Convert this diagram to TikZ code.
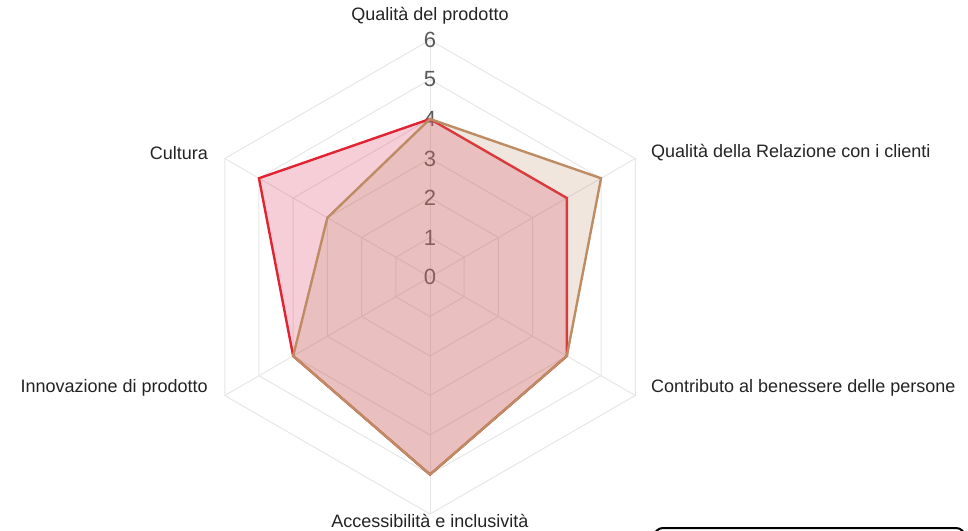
\documentclass[tikz,border=0pt]{standalone}
\usepackage{fontspec}
\setmainfont{Liberation Sans}
\usetikzlibrary{positioning}

\definecolor{redline}{RGB}{224,36,52}
\definecolor{redfill}{RGB}{220,60,100}
\definecolor{brownline}{RGB}{190,140,100}
\definecolor{gridgray}{RGB}{230,230,230}
\definecolor{ticktext}{RGB}{90,90,90}
\definecolor{labeltext}{RGB}{35,35,35}

\newcommand{\unitr}{39.5}

\tikzset{
    grid/.style={draw=gridgray, line width=1pt},
    ticklabel/.style={text=ticktext, font=\fontsize{22}{26}\selectfont, inner sep=0pt},
    axislabel/.style={text=labeltext, font=\fontsize{18}{22}\selectfont, inner sep=0pt},
    seriesA/.style={draw=redline, fill=redfill, fill opacity=0.25, draw opacity=1, line width=2.4pt, line join=miter},
    seriesB/.style={draw=brownline, fill=brownline, fill opacity=0.22, draw opacity=1, line width=2.4pt, line join=miter},
}

\begin{document}
\begin{tikzpicture}[x=1pt,y=1pt]
    \clip (-430,-253) rectangle (538,277);
    %\draw[step=10,help lines] (-430,-253) grid (538,277);

    % rings and spokes
    \foreach \r in {1,...,6}
        \draw[grid] (90:\r*\unitr) -- (30:\r*\unitr) -- (-30:\r*\unitr) -- (-90:\r*\unitr) -- (-150:\r*\unitr) -- (150:\r*\unitr) -- cycle;
    \foreach \a in {90,30,-30,-90,-150,150}
        \draw[grid] (0,0) -- (\a:6*\unitr);

    % scale
    \foreach \v in {0,...,6}
        \node[ticklabel] (tick\v) at (0,\v*\unitr) {\v};

    % datasets
    \draw[seriesA] (90:4*\unitr) -- (30:4*\unitr) -- (-30:4*\unitr) -- (-90:5*\unitr) -- (-150:4*\unitr) -- (150:5*\unitr) -- cycle;
    \draw[seriesB] (90:4*\unitr) -- (30:5*\unitr) -- (-30:4*\unitr) -- (-90:5*\unitr) -- (-150:4*\unitr) -- (150:3*\unitr) -- cycle;

    % axis labels
    \node[axislabel] (prodotto) at (0,261) {Qualità del prodotto};
    \node[axislabel, anchor=west] (relazione) at (221,124) {Qualità della Relazione con i clienti};
    \node[axislabel, anchor=west] (benessere) at (221,-111) {Contributo al benessere delle persone};
    \node[axislabel] (accessibilita) at (0,-244) {Accessibilità e inclusività};
    \node[axislabel, anchor=east] (innovazione) at (-222,-111) {Innovazione di prodotto};
    \node[axislabel, anchor=east] (cultura) at (-222,124) {Cultura};

    % box cut off at the bottom
    \draw[line width=2pt, rounded corners=9pt] (224,-251) rectangle (535,-290);
\end{tikzpicture}
\end{document}
